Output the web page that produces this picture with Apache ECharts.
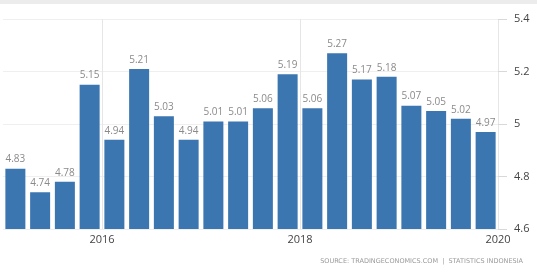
<!DOCTYPE html>
<html>
<head>
<meta charset="utf-8">
<style>
html,body{margin:0;padding:0;background:#fff;}
#chart{width:537px;height:272px;}
</style>
<script src="https://cdn.jsdelivr.net/npm/echarts@6/dist/echarts.min.js"></script>
</head>
<body>
<div id="chart"></div>
<script>
var quarters = ['2015Q1','2015Q2','2015Q3','2015Q4','2016Q1','2016Q2','2016Q3','2016Q4',
  '2017Q1','2017Q2','2017Q3','2017Q4','2018Q1','2018Q2','2018Q3','2018Q4',
  '2019Q1','2019Q2','2019Q3','2019Q4'];
var values = [4.83,4.74,4.78,5.15,4.94,5.21,5.03,4.94,5.01,5.01,5.06,5.19,5.06,5.27,5.17,5.18,5.07,5.05,5.02,4.97];
var yearTicks = ['2016','2018','2020'];
var yTicks = [4.6,4.8,5,5.2,5.4];
var sourceText = 'SOURCE: TRADINGECONOMICS.COM  |  STATISTICS INDONESIA';

// boundaries between quarters: boundary i = start of quarter i (i = 0..n)
var boundaries = [];
for (var i = 0; i <= quarters.length; i++) {
  var yr = String(2015 + Math.floor(i / 4));
  boundaries.push(i % 4 === 0 && yearTicks.indexOf(yr) >= 0 ? yr : '');
}

var chart = echarts.init(document.getElementById('chart'));
chart.setOption({
  animation: false,
  backgroundColor: '#fff',
  graphic: [
    {type: 'rect', left: 0, top: 0, shape: {width: 537, height: 4}, style: {fill: '#ececec'}},
    {type: 'text', right: 14, top: 258, style: {text: sourceText, fill: '#9a9a9a', font: '6.5px "DejaVu Sans"'}}
  ],
  grid: {left: 3, right: 39, top: 19, bottom: 43},
  xAxis: [
    {
      type: 'category', data: quarters, boundaryGap: true,
      axisLine: {show: false}, axisTick: {show: false}, axisLabel: {show: false},
      splitLine: {show: false}
    },
    {
      type: 'category', data: boundaries, boundaryGap: false, position: 'bottom',
      axisLine: {show: false}, axisTick: {show: false},
      axisLabel: {
        interval: function (idx, v) { return v !== ''; },
        color: '#444', fontSize: 11, margin: 5, fontFamily: 'Open Sans'
      },
      splitLine: {
        show: true,
        interval: function (idx, v) { return v !== ''; },
        lineStyle: {color: '#e6e6e6', width: 1}
      }
    }
  ],
  yAxis: {
    type: 'value', position: 'right', min: 4.6, max: 5.4, interval: 0.2,
    axisLine: {show: false},
    axisTick: {show: true, length: 9, lineStyle: {color: '#d8d8d8'}},
    axisLabel: {
      color: '#444', fontSize: 11, margin: 16, fontFamily: 'Open Sans',
      formatter: function (v) {
        var r = Math.round(v * 10) / 10;
        return String(r);
      }
    },
    splitLine: {lineStyle: {color: '#efefef', width: 1}}
  },
  series: [{
    type: 'bar', xAxisIndex: 0, data: values, barWidth: 20,
    itemStyle: {color: '#3b76b1'},
    label: {show: true, position: 'top', distance: 4, color: '#8a8a8a', fontSize: 10, fontFamily: 'Open Sans'}
  }]
});
</script>
</body>
</html>
